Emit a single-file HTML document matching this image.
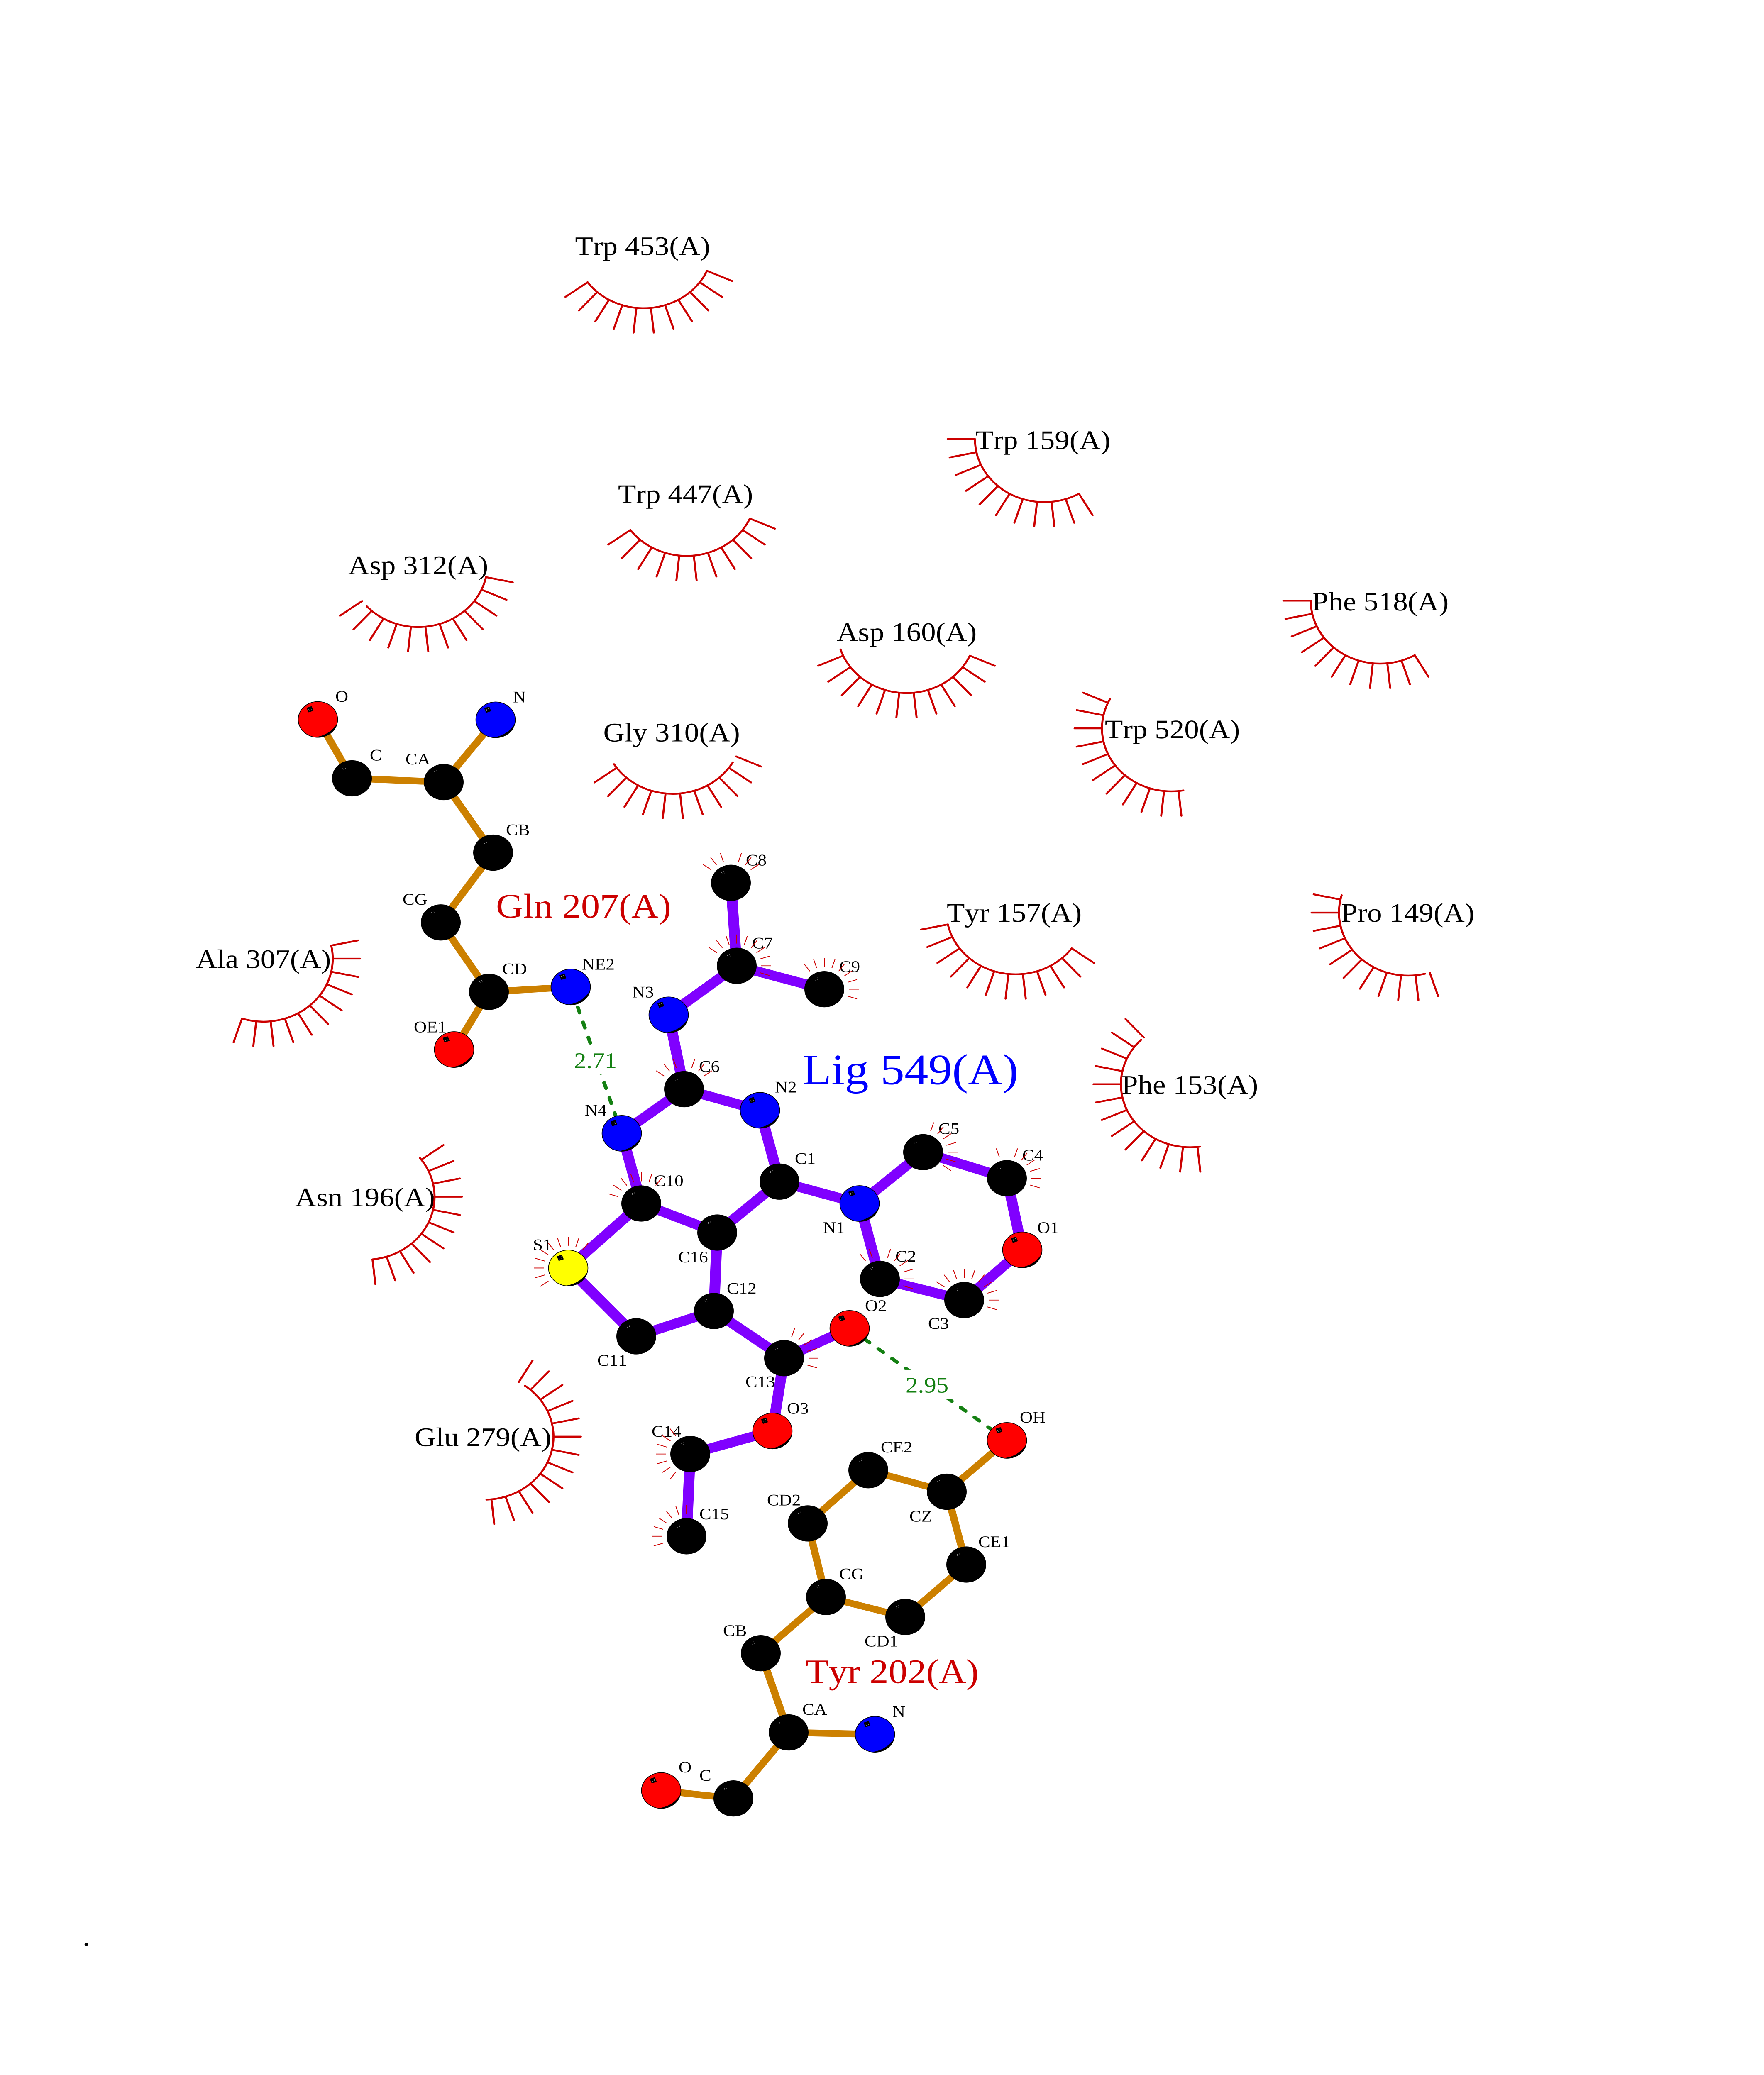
<!DOCTYPE html>
<html><head><meta charset="utf-8"><title>Lig 549(A)</title>
<style>
html,body{margin:0;padding:0;background:#fff;height:100%;overflow:hidden}
svg{display:block;width:100vw;height:100vh}
text{font-family:"Liberation Serif",serif;font-kerning:none;text-rendering:geometricPrecision}
.r{font-size:71px;fill:#000}
.a{font-size:43px;fill:#000}
.d{font-size:59px;fill:#148012}
.g{stroke:#cc8000;stroke-width:18;fill:none}
.p{stroke:#8000ff;stroke-width:26;fill:none}
.h{stroke:#148012;stroke-width:9;stroke-linecap:round;stroke-dasharray:15 27;fill:none}
.b{fill:none;stroke:#cc0000;stroke-width:4.8;stroke-linecap:round}
.t{fill:none;stroke:#cc0000;stroke-width:2}
</style></head><body>
<svg xmlns="http://www.w3.org/2000/svg" viewBox="0 0 4250 5500" preserveAspectRatio="none">
<defs>
<line id="L" x1="0" y1="167" x2="0" y2="233"/>
<g id="c11"><use href="#L" transform="rotate(60)"/><use href="#L" transform="rotate(48)"/><use href="#L" transform="rotate(36)"/><use href="#L" transform="rotate(24)"/><use href="#L" transform="rotate(12)"/><use href="#L"/><use href="#L" transform="rotate(-12)"/><use href="#L" transform="rotate(-24)"/><use href="#L" transform="rotate(-36)"/><use href="#L" transform="rotate(-48)"/><use href="#L" transform="rotate(-60)"/></g>
<g id="c12"><use href="#L" transform="rotate(66)"/><use href="#L" transform="rotate(54)"/><use href="#L" transform="rotate(42)"/><use href="#L" transform="rotate(30)"/><use href="#L" transform="rotate(18)"/><use href="#L" transform="rotate(6)"/><use href="#L" transform="rotate(-6)"/><use href="#L" transform="rotate(-18)"/><use href="#L" transform="rotate(-30)"/><use href="#L" transform="rotate(-42)"/><use href="#L" transform="rotate(-54)"/><use href="#L" transform="rotate(-66)"/></g>
<g id="c13"><use href="#c11"/><use href="#L" transform="rotate(72)"/><use href="#L" transform="rotate(-72)"/></g>

<line id="s" x1="0" y1="-59" x2="0" y2="-83"/>
<g id="s7"><use href="#s" transform="rotate(-54)"/><use href="#s" transform="rotate(-36)"/><use href="#s" transform="rotate(-18)"/><use href="#s"/><use href="#s" transform="rotate(18)"/><use href="#s" transform="rotate(36)"/><use href="#s" transform="rotate(54)"/></g>
<g id="s10"><use href="#s7"/><use href="#s" transform="rotate(72)"/><use href="#s" transform="rotate(90)"/><use href="#s" transform="rotate(108)"/></g>
<g id="s9"><use href="#s" transform="rotate(-36)"/><use href="#s" transform="rotate(-18)"/><use href="#s"/><use href="#s" transform="rotate(18)"/><use href="#s" transform="rotate(36)"/><use href="#s" transform="rotate(54)"/><use href="#s" transform="rotate(72)"/><use href="#s" transform="rotate(90)"/><use href="#s" transform="rotate(108)"/></g>
<g id="s8"><use href="#s" transform="rotate(-18)"/><use href="#s"/><use href="#s" transform="rotate(18)"/><use href="#s" transform="rotate(36)"/><use href="#s" transform="rotate(54)"/><use href="#s" transform="rotate(72)"/><use href="#s" transform="rotate(90)"/><use href="#s" transform="rotate(108)"/></g>

<g id="dots" fill="#c8c8c8"><circle cx="-22" cy="-27" r=".8"/><circle cx="-17" cy="-30" r=".8"/><circle cx="-21" cy="-24" r=".8"/><circle cx="-16" cy="-26" r=".8"/></g>
<g id="k"><circle r="48" fill="#000"/><use href="#dots"/></g>
<g id="o"><path d="M47.3 8.3A48 48 0 0 1-9.3 47.1A70 70 0 0 0 47.3 8.3Z" fill="#000"/><circle r="47.5" fill="none" stroke="#000" stroke-width="1.6"/><rect x="-25.5" y="-33.5" width="13" height="13" rx="1.5" fill="#000" transform="rotate(-20 -19 -27)"/><use href="#dots"/></g>
<g id="R"><circle r="47.5" fill="#ff0000"/><use href="#o"/></g>
<g id="B"><circle r="47.5" fill="#0000ff"/><use href="#o"/></g>
<g id="Y"><circle r="47.5" fill="#ffff00"/><use href="#o"/></g>
</defs>

<rect width="4250" height="5500" fill="#fff"/>

<!-- Gln 207 bonds -->
<g class="g">
<line x1="766" y1="1907" x2="848" y2="2063"/><line x1="848" y1="2063" x2="1069" y2="2073"/><line x1="1069" y1="2073" x2="1194" y2="1908"/><line x1="1069" y1="2073" x2="1188" y2="2260"/><line x1="1188" y1="2260" x2="1062" y2="2445"/><line x1="1062" y1="2445" x2="1178" y2="2629"/><line x1="1178" y1="2629" x2="1375" y2="2616"/><line x1="1178" y1="2629" x2="1094" y2="2782"/>
</g>
<!-- Tyr 202 bonds -->
<g class="g">
<line x1="2426" y1="3818" x2="2281" y2="3954"/><line x1="2281" y1="3954" x2="2092" y2="3897"/><line x1="2281" y1="3954" x2="2328" y2="4147"/><line x1="2092" y1="3897" x2="1946" y2="4038"/><line x1="1946" y1="4038" x2="1990" y2="4233"/><line x1="2328" y1="4147" x2="2181" y2="4286"/><line x1="2181" y1="4286" x2="1990" y2="4233"/><line x1="1990" y1="4233" x2="1833" y2="4382"/><line x1="1833" y1="4382" x2="1900" y2="4592"/><line x1="1900" y1="4592" x2="2108" y2="4597"/><line x1="1900" y1="4592" x2="1767" y2="4767"/><line x1="1767" y1="4767" x2="1593" y2="4746"/>
</g>
<!-- Ligand bonds -->
<g class="p">
<line x1="1761" y1="2340" x2="1775" y2="2560"/><line x1="1775" y1="2560" x2="1986" y2="2622"/><line x1="1775" y1="2560" x2="1611" y2="2690"/><line x1="1611" y1="2690" x2="1648" y2="2887"/><line x1="1648" y1="2887" x2="1831" y2="2943"/><line x1="1648" y1="2887" x2="1498" y2="3004"/><line x1="1831" y1="2943" x2="1878" y2="3132"/><line x1="1498" y1="3004" x2="1545" y2="3190"/><line x1="1545" y1="3190" x2="1728" y2="3267"/><line x1="1545" y1="3190" x2="1369" y2="3361"/><line x1="1728" y1="3267" x2="1878" y2="3132"/><line x1="1728" y1="3267" x2="1720" y2="3475"/><line x1="1878" y1="3132" x2="2071" y2="3190"/><line x1="2071" y1="3190" x2="2224" y2="3054"/><line x1="2071" y1="3190" x2="2120" y2="3390"/><line x1="2224" y1="3054" x2="2426" y2="3123"/><line x1="2426" y1="3123" x2="2463" y2="3313"/><line x1="2463" y1="3313" x2="2323" y2="3446"/><line x1="2323" y1="3446" x2="2120" y2="3390"/><line x1="1720" y1="3475" x2="1533" y2="3542"/><line x1="1533" y1="3542" x2="1369" y2="3361"/><line x1="1720" y1="3475" x2="1889" y2="3600"/><line x1="1889" y1="3600" x2="2047" y2="3521"/><line x1="1889" y1="3600" x2="1861" y2="3793"/><line x1="1861" y1="3793" x2="1663" y2="3854"/><line x1="1663" y1="3854" x2="1654" y2="4072"/>
</g>
<!-- H-bonds -->
<line class="h" x1="1379.4" y1="2629.8" x2="1498" y2="3004"/>
<line class="h" x1="2050" y1="3523.5" x2="2426" y2="3818"/>
<rect x="1378" y="2771" width="112" height="76" fill="#fff"/>
<rect x="2176" y="3631" width="120" height="76" fill="#fff"/>
<text class="d" x="1383" y="2831">2.71</text>
<text class="d" x="2182" y="3691">2.95</text>

<!-- Atoms -->
<use href="#R" x="766" y="1907"/><use href="#k" x="848" y="2063"/><use href="#k" x="1069" y="2073"/><use href="#B" x="1194" y="1908"/><use href="#k" x="1188" y="2260"/><use href="#k" x="1062" y="2445"/><use href="#k" x="1178" y="2629"/><use href="#B" x="1375" y="2616"/><use href="#R" x="1094" y="2782"/>
<use href="#k" x="1761" y="2340"/><use href="#k" x="1775" y="2560"/><use href="#k" x="1986" y="2622"/><use href="#B" x="1611" y="2690"/><use href="#k" x="1648" y="2887"/><use href="#B" x="1831" y="2943"/><use href="#B" x="1498" y="3004"/><use href="#k" x="1878" y="3132"/><use href="#k" x="1545" y="3190"/><use href="#k" x="1728" y="3267"/><use href="#B" x="2071" y="3190"/><use href="#k" x="2224" y="3054"/><use href="#k" x="2426" y="3123"/><use href="#R" x="2463" y="3313"/><use href="#k" x="2323" y="3446"/><use href="#k" x="2120" y="3390"/><use href="#R" x="2047" y="3521"/><use href="#k" x="1889" y="3600"/><use href="#k" x="1720" y="3475"/><use href="#k" x="1533" y="3542"/><use href="#Y" x="1369" y="3361"/><use href="#R" x="1861" y="3793"/><use href="#k" x="1663" y="3854"/><use href="#k" x="1654" y="4072"/>
<use href="#R" x="2426" y="3818"/><use href="#k" x="2092" y="3897"/><use href="#k" x="2281" y="3954"/><use href="#k" x="1946" y="4038"/><use href="#k" x="2328" y="4147"/><use href="#k" x="1990" y="4233"/><use href="#k" x="2181" y="4286"/><use href="#k" x="1833" y="4382"/><use href="#k" x="1900" y="4592"/><use href="#B" x="2108" y="4597"/><use href="#k" x="1767" y="4767"/><use href="#R" x="1593" y="4746"/>

<!-- Residue labels -->
<text class="r" x="1385.5" y="676">Trp 453(A)</text>
<text class="r" x="1489" y="1333">Trp 447(A)</text>
<text class="r" x="839" y="1522">Asp 312(A)</text>
<text class="r" x="1453.5" y="1965">Gly 310(A)</text>
<text class="r" x="2350" y="1190">Trp 159(A)</text>
<text class="r" x="3161" y="1618">Phe 518(A)</text>
<text class="r" x="2016" y="1699">Asp 160(A)</text>
<text class="r" x="2662" y="1957">Trp 520(A)</text>
<text class="r" x="2281" y="2443">Tyr 157(A)</text>
<text class="r" x="3231" y="2443">Pro 149(A)</text>
<text class="r" x="2702" y="2899">Phe 153(A)</text>
<text class="r" x="472" y="2566">Ala 307(A)</text>
<text class="r" x="711" y="3197">Asn 196(A)</text>
<text class="r" x="999" y="3833">Glu 279(A)</text>
<text x="1195" y="2432" font-size="91" fill="#cc0000">Gln 207(A)</text>
<text x="1941" y="4461" font-size="91" fill="#cc0000">Tyr 202(A)</text>
<text x="1933" y="2874" font-size="115" fill="#0000ff">Lig 549(A)</text>
<text class="r" x="199" y="5157">.</text>

<!-- Atom labels -->
<g class="a">
<text x="808" y="1860">O</text><text x="891" y="2016">C</text><text x="977" y="2026">CA</text><text x="1236" y="1862">N</text><text x="1219" y="2214">CB</text><text x="970" y="2398">CG</text><text x="1210" y="2582">CD</text><text x="1402" y="2570">NE2</text><text x="997" y="2736">OE1</text>
<text x="1523" y="2644">N3</text><text x="1797" y="2294">C8</text><text x="1812" y="2514">C7</text><text x="2022" y="2576">C9</text><text x="1684" y="2841">C6</text><text x="1867" y="2896">N2</text><text x="1409" y="2957">N4</text><text x="1915" y="3085">C1</text><text x="1575" y="3144">C10</text><text x="2261" y="3006">C5</text><text x="2463" y="3076">C4</text><text x="1983" y="3268">N1</text><text x="2499" y="3268">O1</text><text x="2157" y="3344">C2</text><text x="1284" y="3314">S1</text><text x="1634" y="3346">C16</text><text x="1751" y="3429">C12</text><text x="2084" y="3475">O2</text><text x="2236" y="3522">C3</text><text x="1439" y="3620">C11</text><text x="1796" y="3677">C13</text><text x="1896" y="3747">O3</text><text x="1570" y="3808">C14</text><text x="1685" y="4027">C15</text>
<text x="2457" y="3771">OH</text><text x="2122" y="3850">CE2</text><text x="1848" y="3990">CD2</text><text x="2191" y="4033">CZ</text><text x="2357" y="4101">CE1</text><text x="2022" y="4186">CG</text><text x="2083" y="4364">CD1</text><text x="1742" y="4336">CB</text><text x="1933" y="4545">CA</text><text x="2150" y="4551">N</text><text x="1635" y="4698">O</text><text x="1685" y="4720">C</text>
</g>

<!-- Atom contact rays -->
<g class="t">
<use href="#s7" transform="translate(1761 2340)"/>
<use href="#s10" transform="translate(1775 2560)"/>
<use href="#s9" transform="translate(1986 2622)"/>
<use href="#s7" transform="translate(1648 2887)"/>
<use href="#s7" transform="translate(2224 3054) rotate(72)"/>
<use href="#s8" transform="translate(2426 3123)"/>
<use href="#s10" transform="translate(2323 3446)"/>
<use href="#s9" transform="translate(2120 3390)"/>
<use href="#s7" transform="translate(1545 3190) rotate(-18)"/>
<use href="#s10" transform="translate(1369 3361) rotate(-72)"/>
<use href="#s7" transform="translate(1889 3600) rotate(54)"/>
<use href="#s7" transform="translate(1663 3854) rotate(-90)"/>
<use href="#s7" transform="translate(1654 4072) rotate(-54)"/>
</g>

<!-- Hydrophobic contact arcs -->
<g class="b">
<g transform="translate(1550.8 650)"><circle r="167" stroke-dasharray="349.8 9999" transform="rotate(24)"/><use href="#c11" transform="rotate(-6)"/></g>
<g transform="translate(1654 1306.5)"><circle r="167" stroke-dasharray="349.8 9999" transform="rotate(24)"/><use href="#c11" transform="rotate(-6)"/></g>
<g transform="translate(1007.5 1495)"><circle r="167" stroke-dasharray="367.2 9999" transform="rotate(12)"/><use href="#c12" transform="rotate(-12)"/></g>
<g transform="translate(1621 1937)"><circle r="167" stroke-dasharray="343.9 9999" transform="rotate(30)"/><use href="#c11" transform="rotate(-6)"/></g>
<g transform="translate(2516 1164)"><circle r="167" stroke-dasharray="349.8 9999" transform="rotate(60)"/><use href="#c11" transform="rotate(30)"/></g>
<g transform="translate(3325 1592)"><circle r="167" stroke-dasharray="349.8 9999" transform="rotate(60)"/><use href="#c11" transform="rotate(30)"/></g>
<g transform="translate(2184 1670)"><circle r="167" stroke-dasharray="402.2 9999" transform="rotate(24)"/><use href="#c12"/></g>
<g transform="translate(2822 1930.6)"><circle r="167" stroke-dasharray="373 9999" transform="rotate(80)"/><use href="#c11" transform="rotate(54)"/></g>
<g transform="translate(2447 2415.5)"><circle r="167" stroke-dasharray="384.7 9999" transform="rotate(36)"/><use href="#c12" transform="rotate(12)"/></g>
<g transform="translate(3393 2419)"><circle r="167" stroke-dasharray="349.8 9999" transform="rotate(76)"/><use href="#c11" transform="rotate(42)"/></g>
<g transform="translate(2867.6 2874)"><circle r="167" stroke-dasharray="416.8 9999" transform="rotate(82)"/><use href="#c13" transform="rotate(66)"/></g>
<g transform="translate(634.7 2541)"><circle r="167" stroke-dasharray="349.8 9999" transform="rotate(-12)"/><use href="#c11" transform="rotate(-42)"/></g>
<g transform="translate(880 3172)"><circle r="167" stroke-dasharray="355.6 9999" transform="rotate(-38)"/><use href="#c11" transform="rotate(-66)"/></g>
<g transform="translate(1166.5 3808)"><circle r="167" stroke-dasharray="413.9 9999" transform="rotate(-54)"/><use href="#c13" transform="rotate(-78)"/></g>
</g>
</svg>
</body></html>
